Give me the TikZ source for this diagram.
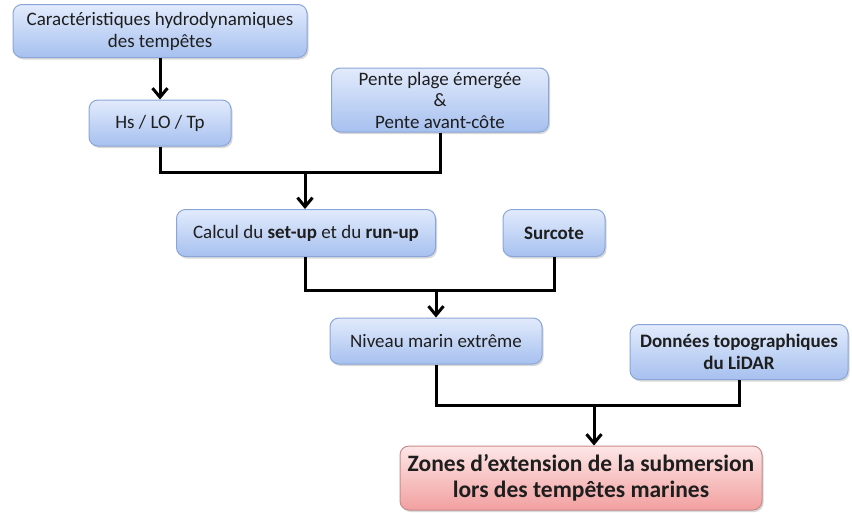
\documentclass[tikz,border=0pt]{standalone}
\usepackage{fontspec}
\setmainfont{Carlito}
\usetikzlibrary{arrows.meta,shadows}
\definecolor{bfillt}{HTML}{E2EBFC}
\definecolor{bfillb}{HTML}{A6C0EF}
\definecolor{bdraw}{HTML}{8AA6D8}
\definecolor{rfillt}{HTML}{FDE6E6}
\definecolor{rfillb}{HTML}{F2A0A0}
\definecolor{rdraw}{HTML}{C98A8A}
\definecolor{txt}{HTML}{1E1E1E}
\tikzset{
  box/.style={draw=bdraw, line width=1pt, rounded corners=9pt, top color=bfillt, bottom color=bfillb,
    align=center, inner sep=0pt, text=txt, font=\fontsize{19}{22}\selectfont,
    drop shadow={shadow xshift=1.5pt, shadow yshift=-2pt, opacity=0.3}},
  redbox/.style={box, draw=rdraw, top color=rfillt, bottom color=rfillb, font=\fontsize{23.5}{26}\selectfont\bfseries},
  conn/.style={line width=3pt, black, line join=miter},
  arr/.style={conn, -{Straight Barb[length=9pt,width=15pt,line width=3pt]}},
}
\begin{document}
\begin{tikzpicture}[x=1pt,y=-1pt]
\useasboundingbox (0,0) rectangle (852,512);
\node[box, minimum width=294pt, minimum height=53pt] (car) at (160,31) {Caractéristiques hydrodynamiques\\des tempêtes};
\node[box, minimum width=142pt, minimum height=46pt] (hs) at (160,123) {Hs / LO / Tp};
\node[box, minimum width=217pt, minimum height=64pt, font=\fontsize{19}{21.5}\selectfont] (pente) at (440,100) {Pente plage émergée\\\&\\Pente avant-côte};
\node[box, minimum width=259pt, minimum height=47pt] (calc) at (306,233) {Calcul du \textbf{set-up} et du \textbf{run-up}};
\node[box, minimum width=102pt, minimum height=47pt, font=\fontsize{19}{22}\selectfont\bfseries] (sur) at (554,233) {Surcote};
\node[box, minimum width=212pt, minimum height=46pt] (niv) at (436,341) {Niveau marin extrême};
\node[box, minimum width=218pt, minimum height=55pt, font=\fontsize{19}{22}\selectfont\bfseries] (don) at (739,352) {Données topographiques\\du LiDAR};
\node[redbox, minimum width=362pt, minimum height=64pt] (zon) at (581,478) {Zones d’extension de la submersion\\lors des tempêtes marines};

\coordinate (j1) at (305,172);
\coordinate (j2) at (436,290);
\coordinate (j3) at (594,405);

\draw[arr] (car.south) -- (hs.north);
\draw[conn] (hs.south) -- (hs.south |- j1) -- (pente.south |- j1) -- (pente.south);
\draw[arr] (j1) -- (j1 |- calc.north);
\draw[conn] (calc.south -| j1) -- (j1 |- j2) -- (sur.south |- j2) -- (sur.south);
\draw[arr] (j2) -- (niv.north);
\draw[conn] (niv.south) -- (niv.south |- j3) -- (don.south |- j3) -- (don.south);
\draw[arr] (j3) -- (j3 |- zon.north);
\end{tikzpicture}
\end{document}
